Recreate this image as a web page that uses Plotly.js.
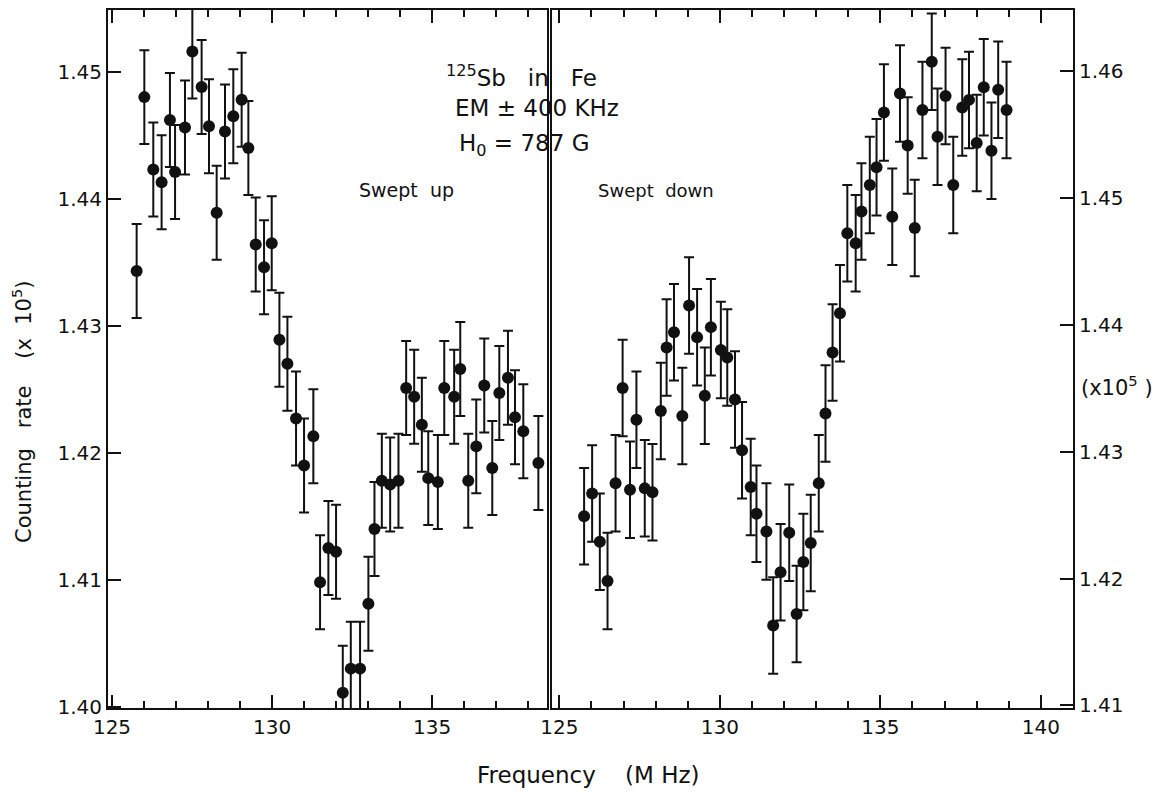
<!DOCTYPE html>
<html>
<head>
<meta charset="utf-8">
<script src="https://cdn.plot.ly/plotly-3.0.1.min.js"></script>
<style>html,body{margin:0;padding:0;background:#fff;}#chart{width:1169px;height:795px;}</style>
</head>
<body>
<div id="chart"></div>
<script>
// Swept up (left panel, left axis)
const upFreq = [125.77,126.01,126.29,126.55,126.81,126.97,127.28,127.51,127.80,128.03,
  128.27,128.53,128.79,129.05,129.26,129.49,129.75,129.99,130.23,130.48,
  130.75,131.00,131.29,131.50,131.76,132.00,132.21,132.46,132.75,133.01,
  133.20,133.43,133.69,133.95,134.19,134.44,134.68,134.88,135.18,135.38,
  135.69,135.88,136.13,136.38,136.63,136.88,137.10,137.37,137.59,137.85,138.32];
const upRate = [1.4343,1.4480,1.4423,1.4413,1.4462,1.4421,1.4456,1.4516,1.4488,1.4457,
  1.4389,1.4453,1.4465,1.4478,1.4440,1.4364,1.4346,1.4365,1.4289,1.4270,
  1.4227,1.4190,1.4213,1.4098,1.4125,1.4122,1.4011,1.4030,1.4030,1.4081,
  1.4140,1.4178,1.4175,1.4178,1.4251,1.4244,1.4222,1.4180,1.4177,1.4251,
  1.4244,1.4266,1.4178,1.4205,1.4253,1.4188,1.4247,1.4259,1.4228,1.4217,1.4192];
const upErr = 0.0037;

// Swept down (right panel, right axis)
const downFreq = [125.77,126.02,126.26,126.50,126.75,126.97,127.20,127.40,127.66,127.90,
  128.16,128.34,128.57,128.83,129.04,129.29,129.53,129.72,130.03,130.23,
  130.47,130.69,130.96,131.14,131.45,131.66,131.89,132.16,132.39,132.60,
  132.83,133.08,133.29,133.51,133.74,133.97,134.23,134.41,134.67,134.88,
  135.11,135.37,135.61,135.85,136.07,136.31,136.60,136.78,137.03,137.27,
  137.55,137.76,138.00,138.22,138.46,138.67,138.93];
const downRate = [1.4249,1.4267,1.4229,1.4198,1.4275,1.4350,1.4270,1.4325,1.4271,1.4268,
  1.4332,1.4382,1.4394,1.4328,1.4415,1.4390,1.4344,1.4398,1.4380,1.4374,
  1.4341,1.4301,1.4272,1.4251,1.4237,1.4163,1.4205,1.4236,1.4172,1.4213,
  1.4228,1.4275,1.4330,1.4378,1.4409,1.4472,1.4464,1.4489,1.4510,1.4524,
  1.4567,1.4485,1.4582,1.4541,1.4476,1.4569,1.4607,1.4548,1.4580,1.4510,
  1.4571,1.4577,1.4543,1.4587,1.4537,1.4585,1.4569];
const downErr = 0.0038;

const leftTicks = [1.40,1.41,1.42,1.43,1.44,1.45];
const rightTicks = [1.41,1.42,1.43,1.44,1.45,1.46];

const ink = '#111111';
const FONT = 'DejaVu Sans';

function trace(x, y, err, xa, ya) {
  return {
    x: x, y: y, xaxis: xa, yaxis: ya, type: 'scatter', mode: 'markers',
    marker: {color: ink, size: 12},
    error_y: {type: 'constant', value: err, color: ink, thickness: 2, width: 5},
    showlegend: false
  };
}

const data = [
  trace(upFreq, upRate, upErr, 'x', 'y'),
  trace(downFreq, downRate, downErr, 'x2', 'y2')
];

const W = 1169, H = 795, L = 108, R = 96, T = 10, B = 87;
const pw = W - L - R, ph = H - T - B;
const px = v => (v - L) / pw;
const py = v => (H - B - v) / ph;

const leftDom = [0, px(547)], rightDom = [px(552), 1];
const leftRange = [124.875, 138.59], rightRange = [124.77, 141.0];

// tick positions for the frequency axes (axis decoration, placed by the axis scale)
const majorFreqTicks = [125, 130, 135, 140];
const minorFreqTicks = [125,126,127,128,129,130,131,132,133,134,135,136,137,138,139,140,141];

function xAxis(dom, rng, anchor) {
  return {showgrid: false, zeroline: false, showline: true, linecolor: ink, linewidth: 2,
    mirror: 'ticks', ticks: 'inside', ticklen: 13, tickwidth: 2, tickcolor: ink,
    tickmode: 'array', tickvals: majorFreqTicks, ticktext: majorFreqTicks.map(String),
    tickfont: {family: FONT, size: 20, color: ink},
    minor: {ticks: 'inside', tickmode: 'array', tickvals: minorFreqTicks, ticklen: 7, tickwidth: 2, tickcolor: ink, showgrid: false},
    range: rng, domain: dom, anchor: anchor, layer: 'above traces'};
}
function yAxis(rng, vals, anchor, side) {
  return {showgrid: false, zeroline: false, showline: true, linecolor: ink, linewidth: 2,
    mirror: true, ticks: 'inside', ticklen: 13, tickwidth: 2, tickcolor: ink,
    tickmode: 'array', tickvals: vals, ticktext: vals.map(v => v.toFixed(2)),
    tickfont: {family: FONT, size: 20, color: ink},
    range: rng, anchor: anchor, side: side, layer: 'above traces'};
}

const A = (o) => Object.assign({xref: 'paper', yref: 'paper', showarrow: false,
  xanchor: 'center', yanchor: 'middle'}, o);

const layout = {
  width: W, height: H,
  margin: {l: L, r: R, t: T, b: B},
  showlegend: false,
  xaxis: xAxis(leftDom, leftRange, 'y'),
  xaxis2: xAxis(rightDom, rightRange, 'y2'),
  yaxis: yAxis([1.3999, 1.45486], leftTicks, 'x', 'left'),
  yaxis2: yAxis([1.4098, 1.46478], rightTicks, 'x2', 'right'),
  annotations: [
    A({text: '<sup>125</sup>Sb   in   Fe', x: px(521), y: py(76), font: {size: 23, family: FONT, color: ink}}),
    A({text: 'EM ± 400 KHz', x: px(537), y: py(108), font: {size: 23, family: FONT, color: ink}}),
    A({text: 'H<sub>0</sub> = 787 G', x: px(524), y: py(145), font: {size: 23, family: FONT, color: ink}}),
    A({text: 'Swept  up', x: px(406), y: py(190), font: {size: 19, family: FONT, color: ink}}),
    A({text: 'Swept  down', x: px(656), y: py(190), font: {size: 18, family: FONT, color: ink}}),
    A({text: 'Counting   rate    (x  10<sup>5</sup>)', x: px(22), y: py(412), textangle: -90, font: {size: 21, family: FONT, color: ink}}),
    A({text: '(x10<sup>5</sup> )', x: px(1117), y: py(386), font: {size: 21, family: FONT, color: ink}}),
    A({text: 'Frequency    (M Hz)', x: px(588), y: py(775), font: {size: 23, family: FONT, color: ink}})
  ]
};

Plotly.newPlot('chart', data, layout, {displayModeBar: false});
</script>
</body>
</html>
